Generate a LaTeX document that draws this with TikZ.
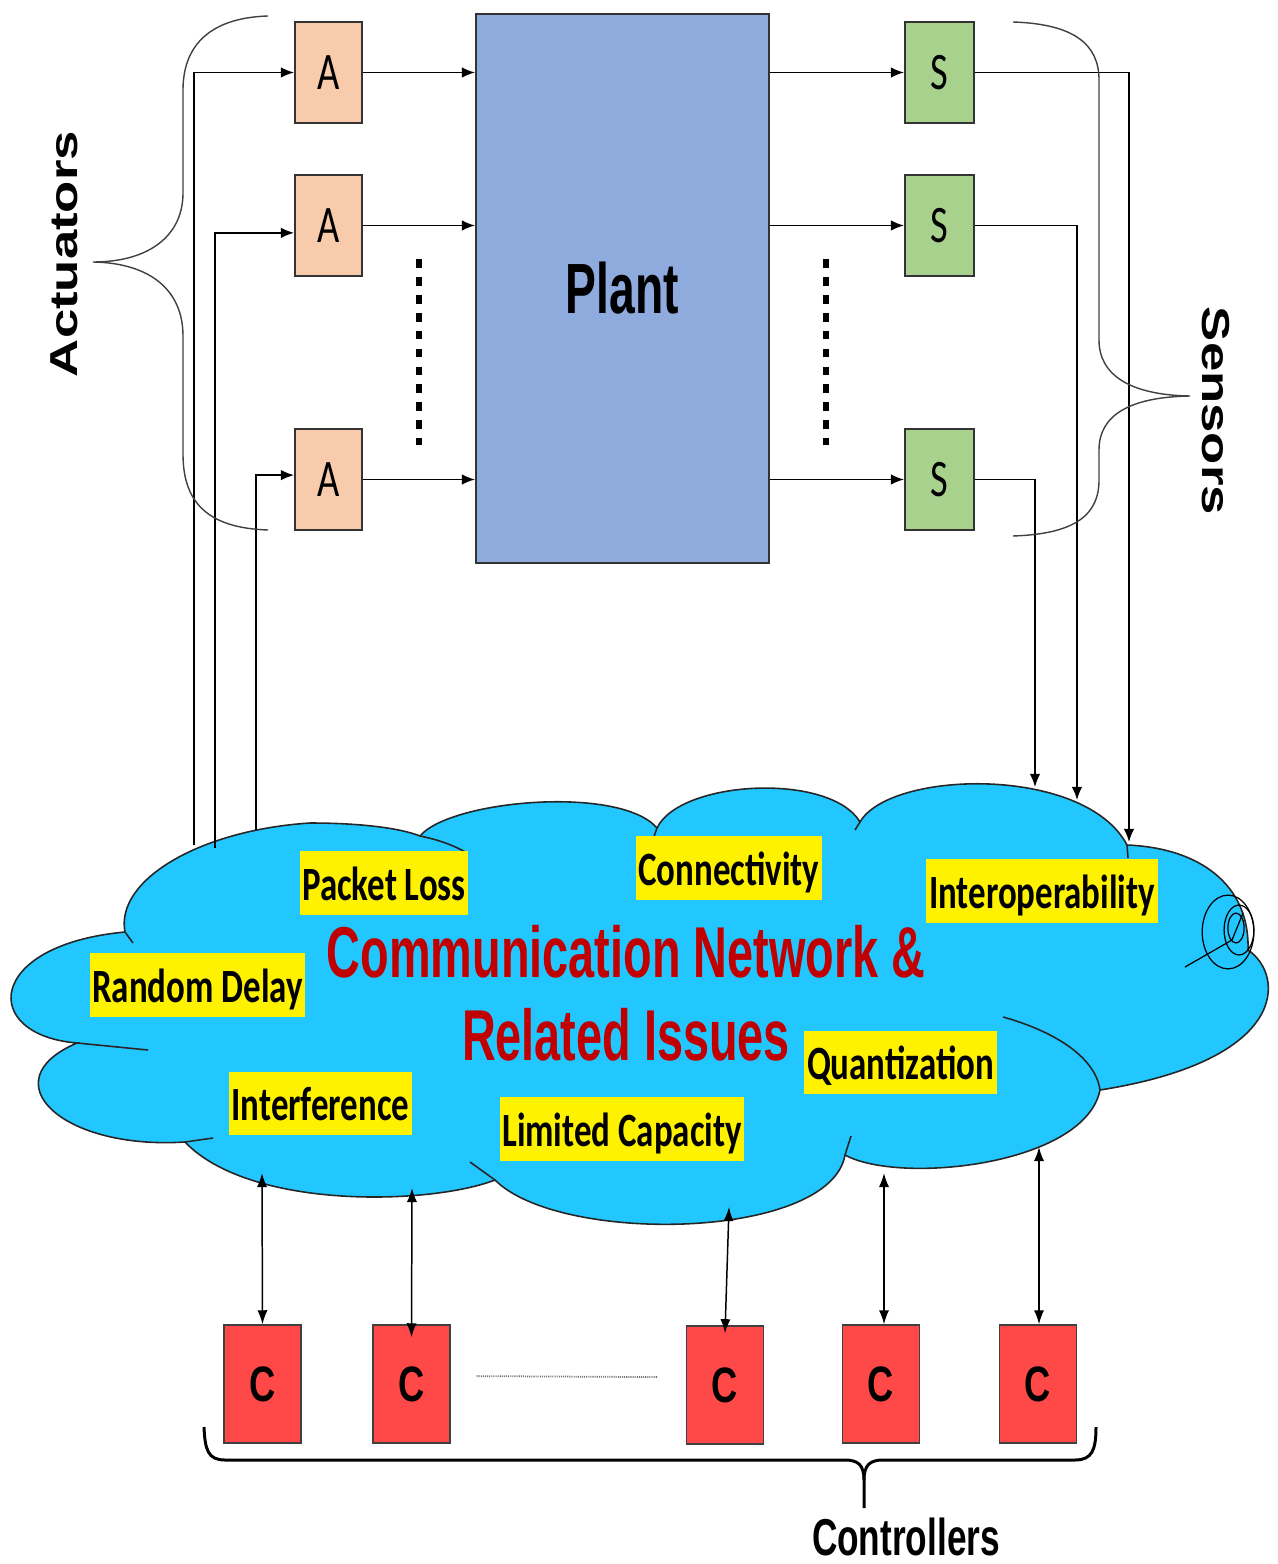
\documentclass[tikz,border=0pt]{standalone}
\usepackage{graphicx}
\usepackage{fontspec}
\usetikzlibrary{arrows.meta,calc}
\setmainfont{Liberation Sans}
\newfontfamily\labfont[FakeStretch=0.73]{Carlito}
\newfontfamily\narrowfont[FakeStretch=0.65]{Liberation Sans}
\newfontfamily\midfont[FakeStretch=0.73]{Liberation Sans}
\newfontfamily\ctrlfont[FakeStretch=0.68]{Liberation Sans}
\newlength\pxl \setlength\pxl{0.02cm}

\definecolor{actcol}{RGB}{248,203,173}
\definecolor{sencol}{RGB}{169,209,142}
\definecolor{plantcol}{RGB}{143,170,220}
\definecolor{ctrlcol}{RGB}{255,72,72}
\definecolor{cloudcol}{RGB}{34,199,255}
\definecolor{netred}{RGB}{192,0,0}

\begin{document}
\begin{tikzpicture}[x=0.02cm,y=-0.02cm,
  conn/.style={line width=0.85pt,-{Latex[length=7.5pt,width=6pt]}},
  dconn/.style={line width=0.85pt,{Latex[length=8pt,width=5.8pt]}-{Latex[length=8pt,width=5.8pt]}},
  blockA/.style={draw=black!80,line width=1.1pt,fill=actcol,inner sep=0pt,
    minimum width=67*\pxl,minimum height=101*\pxl,font=\labfont\fontsize{30}{30}\selectfont},
  blockS/.style={blockA,fill=sencol,minimum width=69*\pxl},
  blockC/.style={draw=black!75,line width=0.8pt,fill=ctrlcol,inner sep=0pt,
    minimum width=77*\pxl,minimum height=118*\pxl,font=\midfont\bfseries\fontsize{28.3}{28.3}\selectfont},
  issue/.style={fill=yellow,inner xsep=1.5pt,inner ysep=0pt,text height=28pt,text depth=8.2pt,
    font=\labfont\bfseries\fontsize{27.2}{27.2}\selectfont},
  bigred/.style={text=netred,inner sep=0pt,anchor=base,font=\narrowfont\bfseries\fontsize{41}{41}\selectfont},
  cloudline/.style={draw=black!85,line width=0.9pt},
  bracel/.style={draw=black!75,line width=0.8pt},
  vdots/.style={line width=3.4pt,dash pattern=on 5pt off 5.2pt},
  cdots/.style={draw=black!55,line width=1pt,dash pattern=on 0.6pt off 0.6pt}]

\useasboundingbox (0,0) rectangle (1277,1564);

% ---------- communication network cloud ----------
\draw[cloudline,fill=cloudcol]
  (125,932) .. controls (115,880) and (200,830) .. (310,823)
  .. controls (360,823) and (400,828) .. (420,836)
  .. controls (450,800) and (620,785) .. (657,828)
  .. controls (680,780) and (830,772) .. (860,822)
  .. controls (890,770) and (1085,765) .. (1127,845)
  .. controls (1200,848) and (1250,885) .. (1248,950)
  .. controls (1285,975) and (1290,1060) .. (1100,1090)
  .. controls (1085,1165) and (900,1185) .. (845,1155)
  .. controls (830,1240) and (560,1245) .. (495,1180)
  .. controls (430,1205) and (250,1210) .. (185,1142)
  .. controls (60,1150) and (-10,1080) .. (77,1043)
  .. controls (-20,1035) and (-15,945) .. (125,932) -- cycle;
% inner ends of the cloud lobes
\draw[cloudline] (420,836) .. controls (440,840) and (455,846) .. (467,853);
\draw[cloudline] (652,842) -- (657,828);
\draw[cloudline] (855,830) -- (860,822);
\draw[cloudline] (1127,845) -- (1128,858);
\draw[cloudline] (1003,1017) .. controls (1050,1030) and (1095,1055) .. (1100,1090);
\draw[cloudline] (845,1155) -- (851,1136);
\draw[cloudline] (495,1180) -- (470,1162);
\draw[cloudline] (185,1142) -- (213,1138);
\draw[cloudline] (77,1043) -- (148,1050);
\draw[cloudline] (125,932) -- (133,943);
% curl on the right lobe
\draw[line width=0.7pt] (1228,932) ellipse [x radius=14.7pt,y radius=21pt];
\draw[line width=0.7pt] (1239,930) ellipse [x radius=8.5pt,y radius=14.2pt];
\draw[line width=0.7pt] (1236,928) ellipse [x radius=4.6pt,y radius=8.5pt];
\draw[line width=0.7pt] (1185,967) -- (1232,940) -- (1243,913);

% ---------- issue labels ----------
\node[issue] (loss) at (384,883) {Packet Loss};
\node[issue] (delay) at (197.5,985) {Random Delay};
\node[issue] (interf) at (320.5,1103.5) {Interference};
\node[issue] (connect) at (729,868) {Connectivity};
\node[issue] (interop) at (1042,891) {Interoperability};
\node[issue] (quant) at (900.5,1062.5) {Quantization};
\node[issue] (capacity) at (622,1129) {Limited Capacity};
\node[bigred] (net1) at (626,977) {Communication Network \&};
\node[bigred] (net2) at (626,1060) {Related Issues};

% ---------- plant, actuators, sensors ----------
\node[draw=black!80,line width=1.1pt,fill=plantcol,minimum width=293*\pxl,minimum height=549*\pxl,
  inner sep=0pt,font=\narrowfont\bfseries\fontsize{40.5}{40.5}\selectfont] (plant) at (622.5,288.5) {Plant};

\node[blockA] (A1) at (328.5,72.5) {A};
\node[blockA] (A2) at (328.5,225.5) {A};
\node[blockA] (A3) at (328.5,479.5) {A};
\node[blockS] (S1) at (939.5,72.5) {S};
\node[blockS] (S2) at (939.5,225.5) {S};
\node[blockS] (S3) at (939.5,479.5) {S};

\draw[vdots] (419,259) -- (419,445);
\draw[vdots] (826,259) -- (826,445);

\foreach \k in {1,2,3}{
  \draw[conn] (A\k.east) -- (A\k.east -| plant.west);
  \draw[conn] (S\k.west -| plant.east) -- (S\k.west);
}

% network to actuators
\coordinate (ca1) at (194,845);
\coordinate (ca2) at (215,848);
\coordinate (ca3) at (256,830);
\draw[conn] (ca1) |- (A1.west);
\draw[conn] (ca2) |- ([yshift=-4.2pt]A2.west);
\draw[conn] (ca3) |- ([yshift=2.5pt]A3.west);

% sensors to network
\coordinate (cs1) at (1129,842);
\coordinate (cs2) at (1077,800);
\coordinate (cs3) at (1035,787);
\draw[conn] (S1.east) -| (cs1);
\draw[conn] (S2.east) -| (cs2);
\draw[conn] (S3.east) -| (cs3);

% braces
\draw[bracel] (268,16) .. controls (205,18) and (183,50) .. (183,90) -- (183,193)
  .. controls (183,235) and (150,262) .. (93,262)
  .. controls (150,263) and (183,290) .. (183,336) -- (183,454)
  .. controls (183,500) and (205,528) .. (268,530);
\draw[bracel] (1013,22) .. controls (1075,24) and (1099,45) .. (1099,80) -- (1099,340)
  .. controls (1099,375) and (1130,395) .. (1190,396)
  .. controls (1130,397) and (1099,415) .. (1099,450) -- (1099,480)
  .. controls (1099,515) and (1075,534) .. (1013,536);

\node[rotate=90,inner sep=0pt,font=\bfseries\fontsize{30}{30}\selectfont] (actlabel) at (64,254)
  {\scalebox{1}[0.74]{Actuators}};
\node[rotate=-90,inner sep=0pt,font=\bfseries\fontsize{30}{30}\selectfont] (senlabel) at (1216,411)
  {\scalebox{1}[0.74]{Sensors}};

% ---------- controllers ----------
\node[blockC] (C1) at (262.5,1384) {C};
\node[blockC] (C2) at (411.5,1384) {C};
\node[blockC] (C3) at (725,1385) {C};
\node[blockC] (C4) at (881,1384) {C};
\node[blockC] (C5) at (1038,1384) {C};

\coordinate (cc1) at (262,1173);
\coordinate (cc2) at (412,1188);
\coordinate (cc3) at (729,1207);
\coordinate (cc4) at (884,1173);
\coordinate (cc5) at (1039,1147);
\draw[dconn] (cc1) -- (C1.north);
\draw[dconn] (cc2) -- ([yshift=-7.4pt]C2.north);
\draw[dconn] (cc3) -- ([yshift=-4.5pt]C3.north);
\draw[dconn] (cc4) -- (cc4 |- C4.north);
\draw[dconn] (cc5) -- (cc5 |- C5.north);

\draw[cdots] ([xshift=14.7pt,yshift=4.5pt]C2.east) -- ([xshift=-15.9pt,yshift=4.5pt]C3.west);

\draw[line width=1.7pt] (204,1427) .. controls (205,1450) and (208,1460) .. (225,1460) -- (845,1460)
  .. controls (858,1460) and (864,1465) .. (864,1480) -- (864,1508);
\draw[line width=1.7pt] (864,1480) .. controls (864,1465) and (870,1460) .. (883,1460) -- (1075,1460)
  .. controls (1092,1460) and (1096,1450) .. (1096,1427);

\node[anchor=base,inner sep=0pt,font=\ctrlfont\bfseries\fontsize{29.5}{29.5}\selectfont] (ctrllabel) at (906,1555) {Controllers};
\end{tikzpicture}
\end{document}
